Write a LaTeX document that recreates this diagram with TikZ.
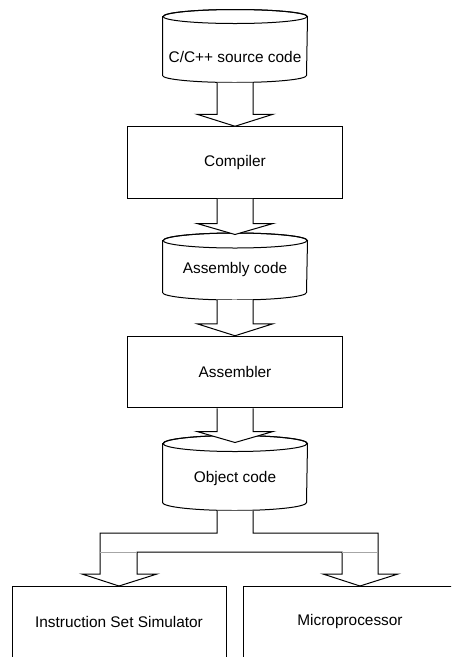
\documentclass[tikz,border=0pt]{standalone}
\usepackage{fontspec}
\setmainfont{Liberation Sans}
\usetikzlibrary{calc}
\newcommand\cylout[3]{%
  \draw[fill=white] (#1.north west) -- (#1.south west)
    arc[start angle=180, end angle=0, x radius=#2, y radius=#3]
    -- (#1.north east)
    arc[start angle=0, end angle=-180, x radius=#2, y radius=#3] -- cycle;
  \draw (#1.north) ellipse[x radius=#2, y radius=#3];}
\begin{document}
\begin{tikzpicture}[x=1pt,y=-1pt,line width=1pt,
  lbl/.style={inner sep=0pt,font=\fontsize{15.4}{18}\selectfont},
  procbox/.style={draw,rectangle,minimum width=215pt,minimum height=71.5pt,inner sep=0pt,font=\fontsize{15.4}{18}\selectfont},
  targetbox/.style={draw,rectangle,minimum width=214pt,minimum height=140pt,anchor=north,inner sep=0pt},
  cylbody/.style={rectangle,minimum width=144pt,inner sep=0pt},
  blockarrow/.style={draw,fill=white,line join=miter},
  thinbar/.style={draw=black!35,line width=0.6pt}]
\useasboundingbox (0,0) rectangle (451,657);
\clip (0,0) rectangle (451,657);

% cylinders
\node[cylbody,minimum height=58pt] (src) at (235,46) {};
\cylout{src}{72}{7}
\node[lbl] (srct) at (235,57) {C/C++ source code};

\node[cylbody,minimum height=51pt] (asm) at (235,266.5) {};
\cylout{asm}{72}{7.5}
\node[lbl] (asmt) at (235,270) {Assembly code};

\node[cylbody,minimum height=58pt] (obj) at (235,473) {};
\cylout{obj}{72}{8}
\node[lbl] (objt) at (235,479) {Object code};

% boxes
\node[procbox] (comp) at (235,162.5) {Compiler};
\node[procbox] (asmb) at (235,372) {Assembler};
\node[targetbox] (iss) at (119,586) {};
\node[lbl] (isst) at (119,622) {Instruction Set Simulator};
\node[targetbox] (mp) at (350,586) {};
\node[lbl] (mpt) at (350,622) {Microprocessor};

% block arrows
\draw[blockarrow] ($(src.south)+(-18,7)$) -- ($(comp.north)+(-18,-12)$) -- ($(comp.north)+(-38,-12)$)
  -- (comp.north) -- ($(comp.north)+(38,-12)$) -- ($(comp.north)+(18,-12)$) -- ($(src.south)+(18,7)$);
\coordinate (asmtip) at ($(asm.north)+(0,-6)$);
\draw[blockarrow] ($(comp.south)+(-18,0)$) -- ($(asmtip)+(-18,-11)$) -- ($(asmtip)+(-38,-11)$)
  -- (asmtip) -- ($(asmtip)+(38,-11)$) -- ($(asmtip)+(18,-11)$) -- ($(comp.south)+(18,0)$);
\draw[blockarrow] ($(asm.south)+(-18,7.5)$) -- ($(asmb.north)+(-18,-12)$) -- ($(asmb.north)+(-38,-12)$)
  -- (asmb.north) -- ($(asmb.north)+(38,-12)$) -- ($(asmb.north)+(18,-12)$) -- ($(asm.south)+(18,7.5)$);
\coordinate (objtip) at ($(obj.north)+(0,-1)$);
\draw[blockarrow] ($(asmb.south)+(-18,0)$) -- ($(objtip)+(-18,-11)$) -- ($(objtip)+(-38,-11)$)
  -- (objtip) -- ($(objtip)+(38,-11)$) -- ($(objtip)+(18,-11)$) -- ($(asmb.south)+(18,0)$);

% split arrow
\coordinate (isstip) at (iss.north);
\coordinate (mptip) at ($(mp.north)+(10,0)$);
\draw[blockarrow] ($(obj.south)+(-18,8)$) -- (217,533) -- (100,533) -- (100,574) -- ($(isstip)+(-37,-12)$)
  -- (isstip) -- ($(isstip)+(38,-12)$) -- (137,574) -- (137,552) -- (342,552) -- (342,574)
  -- ($(mptip)+(-37,-12)$) -- (mptip) -- ($(mptip)+(38,-12)$) -- (378,574) -- (378,533)
  -- (253,533) -- ($(obj.south)+(18,8)$);
\draw[thinbar] (100,552) -- (137,552);
\draw[thinbar] (342,552) -- (378,552);
\end{tikzpicture}
\end{document}
